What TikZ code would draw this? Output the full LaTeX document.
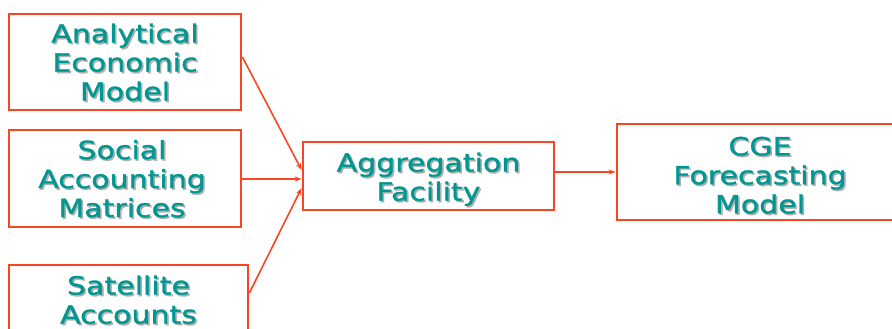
\documentclass[tikz,border=0pt]{standalone}
\usepackage{fontspec}
\usetikzlibrary{arrows.meta}
\newfontfamily\vfont[FakeStretch=1.2,FakeBold=1.2]{DejaVu Sans}
\definecolor{boxred}{RGB}{250,68,34}
\definecolor{tealtext}{RGB}{0,150,146}
\definecolor{shadowgray}{RGB}{175,175,175}
\newcommand\sh[1]{\leavevmode\rlap{\kern1.6pt\raisebox{-1.6pt}{\textcolor{shadowgray}{#1}}}#1}
\tikzset{
  boxnode/.style={draw=boxred, line width=2.8pt, minimum width=#1, inner sep=0pt},
  txt/.style={text=tealtext, font=\vfont\fontsize{25}{29}\selectfont, align=center, inner sep=0pt},
  conn/.style={draw=boxred, line width=1.6pt, -{Stealth[length=7pt,width=5pt]}}
}
\begin{document}
\begin{tikzpicture}[x=1pt,y=-1pt]
\useasboundingbox (0,0) rectangle (892,329);
\clip (0,0) rectangle (892,329);
% boxes
\node[boxnode=232pt, minimum height=96pt] (b1) at (125,62) {};
\node[boxnode=232pt, minimum height=97pt] (b2) at (125,178.5) {};
\node[boxnode=239pt, minimum height=96pt] (b3) at (128.5,313) {};
\node[boxnode=251pt, minimum height=68pt] (agg) at (428.5,176) {};
\node[boxnode=286pt, minimum height=96pt] (cge) at (760,172) {};
% texts
\node[txt] (t1) at (125,63) {\sh{Analytical}\\\sh{Economic}\\\sh{Model}};
\node[txt] (t2) at (122,179.5) {\sh{Social}\\\sh{Accounting}\\\sh{Matrices}};
\node[txt] (t3) at (128.5,300.5) {\sh{Satellite}\\\sh{Accounts}};
\node[txt] (t4) at (428.5,180) {\sh{Aggregation}\\\sh{Facility}};
\node[txt] (t5) at (760,176) {\sh{CGE}\\\sh{Forecasting}\\\sh{Model}};
% connectors
\draw[conn] ([yshift=5pt]b1.east) -- ([yshift=6pt]agg.west);
\draw[conn] ([yshift=-0.5pt]b2.east) -- ([yshift=-3pt]agg.west);
\draw[conn] ([yshift=20pt]b3.east) -- ([yshift=-12pt]agg.west);
\draw[conn] ([yshift=4pt]agg.east) -- ([yshift=0pt]cge.west);
\end{tikzpicture}
\end{document}
